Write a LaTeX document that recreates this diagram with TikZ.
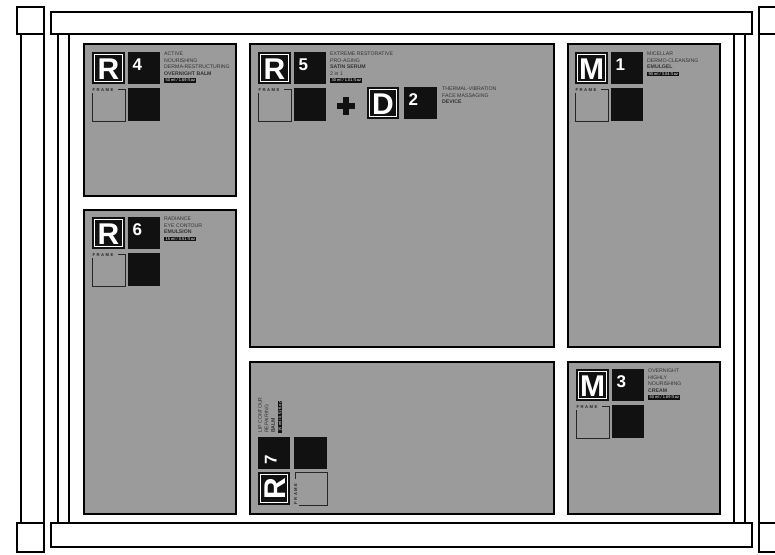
\documentclass[tikz,border=0pt]{standalone}
\usepackage{fontspec}
\setmainfont{Liberation Sans}
\definecolor{pg}{RGB}{155,155,155}
\definecolor{ink}{RGB}{17,17,17}
\newcommand{\vol}[1]{{\setlength{\fboxsep}{0.8pt}\colorbox{ink}{\textcolor{white}{\fontsize{4}{4.5}\selectfont\,#1\,}}}}
\newcommand{\frameword}{F\kern1.5pt R\kern1.5pt A\kern1.5pt M\kern1.5pt E}
\tikzset{
  frameline/.style={draw=black, line width=1.8pt, fill=white},
  postline/.style={draw=black, line width=1.8pt},
  panel/.style={draw=black, line width=1.8pt, fill=pg},
  letter/.style={text=white, font=\fontsize{30}{30}\selectfont\bfseries, inner sep=0pt, anchor=base, transform shape},
  numtxt/.style={text=white, font=\fontsize{17}{17}\selectfont\bfseries, inner sep=0pt, anchor=base west, transform shape},
  info/.style={font=\fontsize{5.2}{6.5}\selectfont, align=left, inner sep=0pt, anchor=north west, text=black!80, transform shape},
  frametxt/.style={font=\fontsize{4.2}{4.5}\selectfont\bfseries, inner sep=0pt, anchor=north west, text=black!85, transform shape},
  pics/hdr/.style n args={3}{code={
    \fill[ink] (0,0) rectangle (33,32);
    \draw[white, line width=0.6pt] (2.5,2.5) rectangle (30.5,29.5);
    \node[letter] (-L) at (16.5,27) {#1};
    \fill[ink] (36,0) rectangle (68,32);
    \node[numtxt] (-N) at (40.5,18.5) {#2};
    \fill[ink] (36,36) rectangle (68,69);
    \draw[black!85, line width=0.8pt] (26,37) -- (33,37) -- (33,69) -- (0,69) -- (0,40.5);
    \node[frametxt] (-F) at (0.3,36) {\frameword};
    \node[info] (-T) at (72,0) {#3};
  }},
}
\begin{document}
\begin{tikzpicture}[x=1pt,y=-1pt]
\useasboundingbox (0,0) rectangle (775,554);
\clip (0,0) rectangle (775,554);
\fill[white] (0,0) rectangle (775,554);
% posts
\draw[postline] (21,34) -- (21,523);
\draw[postline] (44,34) -- (44,523);
\draw[frameline] (17,7) rectangle (44,34);
\draw[frameline] (17,523) rectangle (44,552);
\draw[postline] (759,34) -- (759,523);
\draw[frameline] (759,7) rectangle (790,34);
\draw[frameline] (759,523) rectangle (790,552);
% inner verticals
\draw[postline] (58,34) -- (58,523);
\draw[postline] (69,34) -- (69,523);
\draw[postline] (734,34) -- (734,523);
\draw[postline] (745,34) -- (745,523);
% bars
\draw[frameline] (51,12) rectangle (752,34);
\draw[frameline] (51,523) rectangle (752,547);
% panels
\draw[panel] (84,44) rectangle (236,196);
\draw[panel] (84,210) rectangle (236,514);
\draw[panel] (250,44) rectangle (554,347);
\draw[panel] (568,44) rectangle (720,347);
\draw[panel] (250,362) rectangle (554,514);
\draw[panel] (568,362) rectangle (720,514);
% headers
\pic (r4) at (92,52) {hdr={R}{4}{ACTIVE\\NOURISHING\\DERMA-RESTRUCTURING\\\textbf{OVERNIGHT BALM}\\\vol{50 ml / 1.69 fl.oz}}};
\pic (r5) at (258,52) {hdr={R}{5}{EXTREME RESTORATIVE\\PRO-AGING\\\textbf{SATIN SERUM}\\2 in 1\\\vol{30 ml / 1.01 fl.oz}}};
\pic (m1) at (575,52) {hdr={M}{1}{MICELLAR\\DERMO-CLEANSING\\\textbf{EMULGEL}\\\vol{90 ml / 3.04 fl.oz}}};
\pic (r6) at (92,217) {hdr={R}{6}{RADIANCE\\EYE CONTOUR\\\textbf{EMULSION}\\\vol{15 ml / 0.51 fl.oz}}};
\pic (m3) at (576,369) {hdr={M}{3}{OVERNIGHT\\HIGHLY\\NOURISHING\\\textbf{CREAM}\\\vol{50 ml / 1.69 fl.oz}}};
\pic[rotate=90] (r7) at (258,505) {hdr={R}{7}{LIP CONTOUR\\REPAIRING\\\textbf{BALM}\\\vol{15 ml / 0.51 fl.oz}}};
% plus D2
\fill[ink] (337,103) rectangle (355,109);
\fill[ink] (343,97) rectangle (349,115);
\fill[ink] (367,87) rectangle (399,119);
\draw[white, line width=0.6pt] (369.5,89.5) rectangle (396.5,116.5);
\node[letter] (dL) at (383,114) {D};
\fill[ink] (404,87) rectangle (437,119);
\node[numtxt] (dN) at (408.5,105.5) {2};
\node[info] (dT) at (442,87) {THERMAL-VIBRATION\\FACE MASSAGING\\\textbf{DEVICE}};
\end{tikzpicture}
\end{document}
